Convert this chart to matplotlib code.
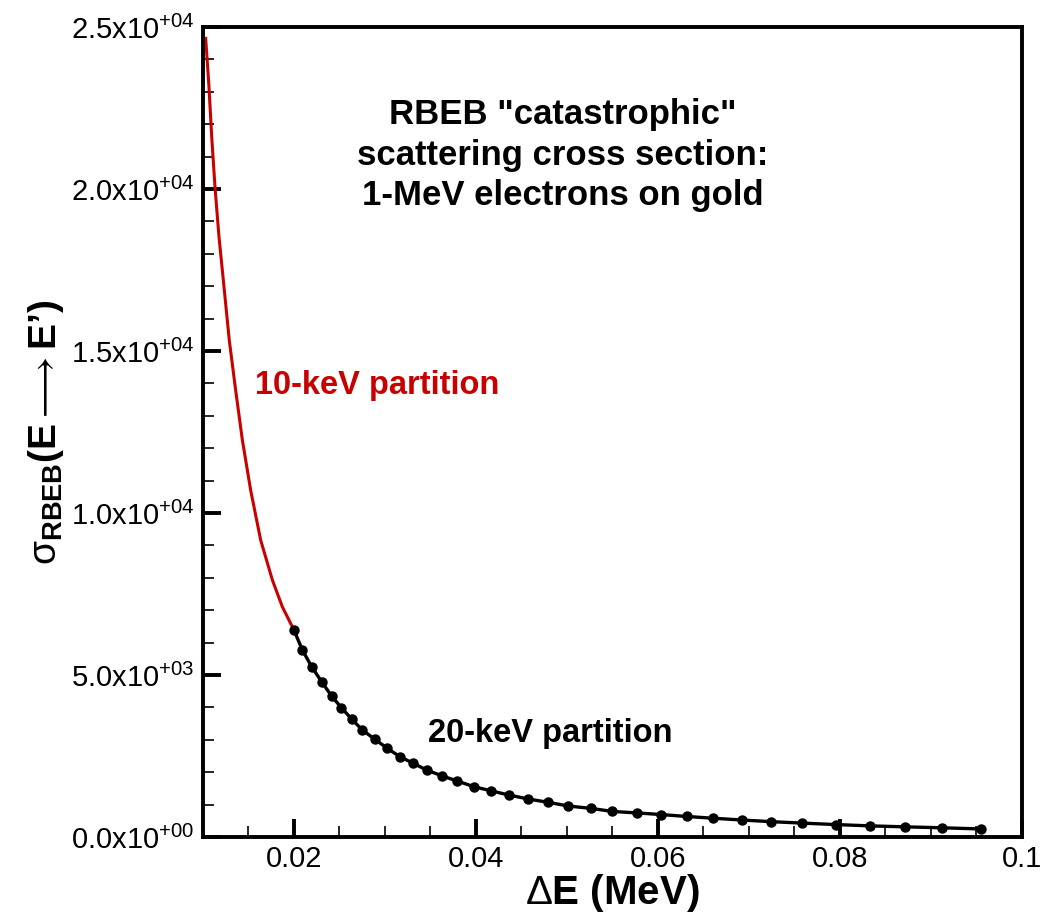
import matplotlib
matplotlib.use('Agg')
import matplotlib.pyplot as plt
from matplotlib.ticker import FuncFormatter, MultipleLocator

plt.rcParams['font.family'] = ['Liberation Sans', 'DejaVu Sans']
plt.rcParams['mathtext.fontset'] = 'custom'
plt.rcParams['mathtext.rm'] = 'Liberation Sans'
plt.rcParams['mathtext.bf'] = 'Liberation Sans:bold'
plt.rcParams['mathtext.it'] = 'Liberation Sans'

# particion de 10 keV (linea roja)
red_x = [0.0103, 0.01066, 0.01096, 0.01132, 0.01176, 0.01231, 0.01289, 0.01359,
         0.01433, 0.01524, 0.01634, 0.01763, 0.01872, 0.0200]
red_y = [24650, 23155, 21612, 20068, 18525, 16982, 15337, 13795,
         12251, 10708, 9165, 7931, 7107, 6389]

# particion de 20 keV (linea negra con puntos)
blk_x = [0.0200, 0.02092, 0.02195, 0.02304, 0.02414, 0.02521, 0.02634, 0.02752,
         0.0289, 0.03026, 0.03165, 0.03312, 0.03458, 0.03631, 0.03796, 0.03978,
         0.04162, 0.04363, 0.04576, 0.04796, 0.05015, 0.0526, 0.05499, 0.05766,
         0.0603, 0.06315, 0.06609, 0.06927, 0.0724, 0.07587, 0.07953, 0.0833,
         0.08711, 0.09125, 0.09546]
blk_y = [6389, 5772, 5256, 4793, 4352, 3991, 3642, 3302,
         3015, 2738, 2478, 2275, 2068, 1883, 1728, 1553,
         1430, 1296, 1173, 1071, 957, 886, 790, 745,
         695, 635, 580, 525, 475, 430, 385, 345,
         315, 285, 250]

x_ticks = [0.02, 0.04, 0.06, 0.08, 0.1]
x_labels = ['0.02', '0.04', '0.06', '0.08', '0.1']
y_ticks = [0, 5000, 10000, 15000, 20000, 25000]

fig = plt.figure(figsize=(10.5, 9.13), dpi=100)
ax = fig.add_axes([0.1933, 0.0832, 0.78, 0.8872])

ax.plot(red_x, red_y, color='#c80000', lw=2.2)
ax.plot(blk_x, blk_y, color='black', lw=2.4, marker='o', ms=6.5)

ax.set_xlim(0.01, 0.1)
ax.set_ylim(0, 25000)
ax.set_xticks(x_ticks)
ax.set_xticklabels(x_labels)
ax.set_yticks(y_ticks)
ax.xaxis.set_minor_locator(MultipleLocator(0.005))
ax.yaxis.set_minor_locator(MultipleLocator(1000))

def sci(v, pos):
    if v == 0:
        return r'$\mathregular{0.0x10^{+00}}$'
    e = len(str(int(v))) - 1
    m = v / 10**e
    return r'$\mathregular{%.1fx10^{+%02d}}$' % (m, e)

ax.yaxis.set_major_formatter(FuncFormatter(sci))

for s in ax.spines.values():
    s.set_linewidth(2.8)
ax.tick_params(which='both', direction='in', top=False, right=False, labelsize=21)
ax.tick_params(which='major', length=13, width=2.8, pad=6)
ax.tick_params(which='minor', length=8, width=1.2)

ax.set_xlabel(r'$\Delta$' + 'E (MeV)', fontsize=29, fontweight='bold', labelpad=-1)
ax.set_ylabel(r"$\mathrm{\sigma}_{\mathbf{RBEB}}\mathbf{(E}\longrightarrow\mathbf{E’)}$", fontsize=28)
ax.yaxis.set_label_coords(-0.167, 0.5)

ax.text(0.0495, 21050, 'RBEB "catastrophic"\nscattering cross section:\n1-MeV electrons on gold',
        ha='center', va='center', fontsize=25, fontweight='bold', linespacing=1.29)
ax.text(0.0157, 13950, '10-keV partition', color='#c80000', fontsize=23.5,
        fontweight='bold', va='center')
ax.text(0.0347, 3200, '20-keV partition', color='black', fontsize=23.5,
        fontweight='bold', va='center')

fig.savefig('out.png', dpi=100)
